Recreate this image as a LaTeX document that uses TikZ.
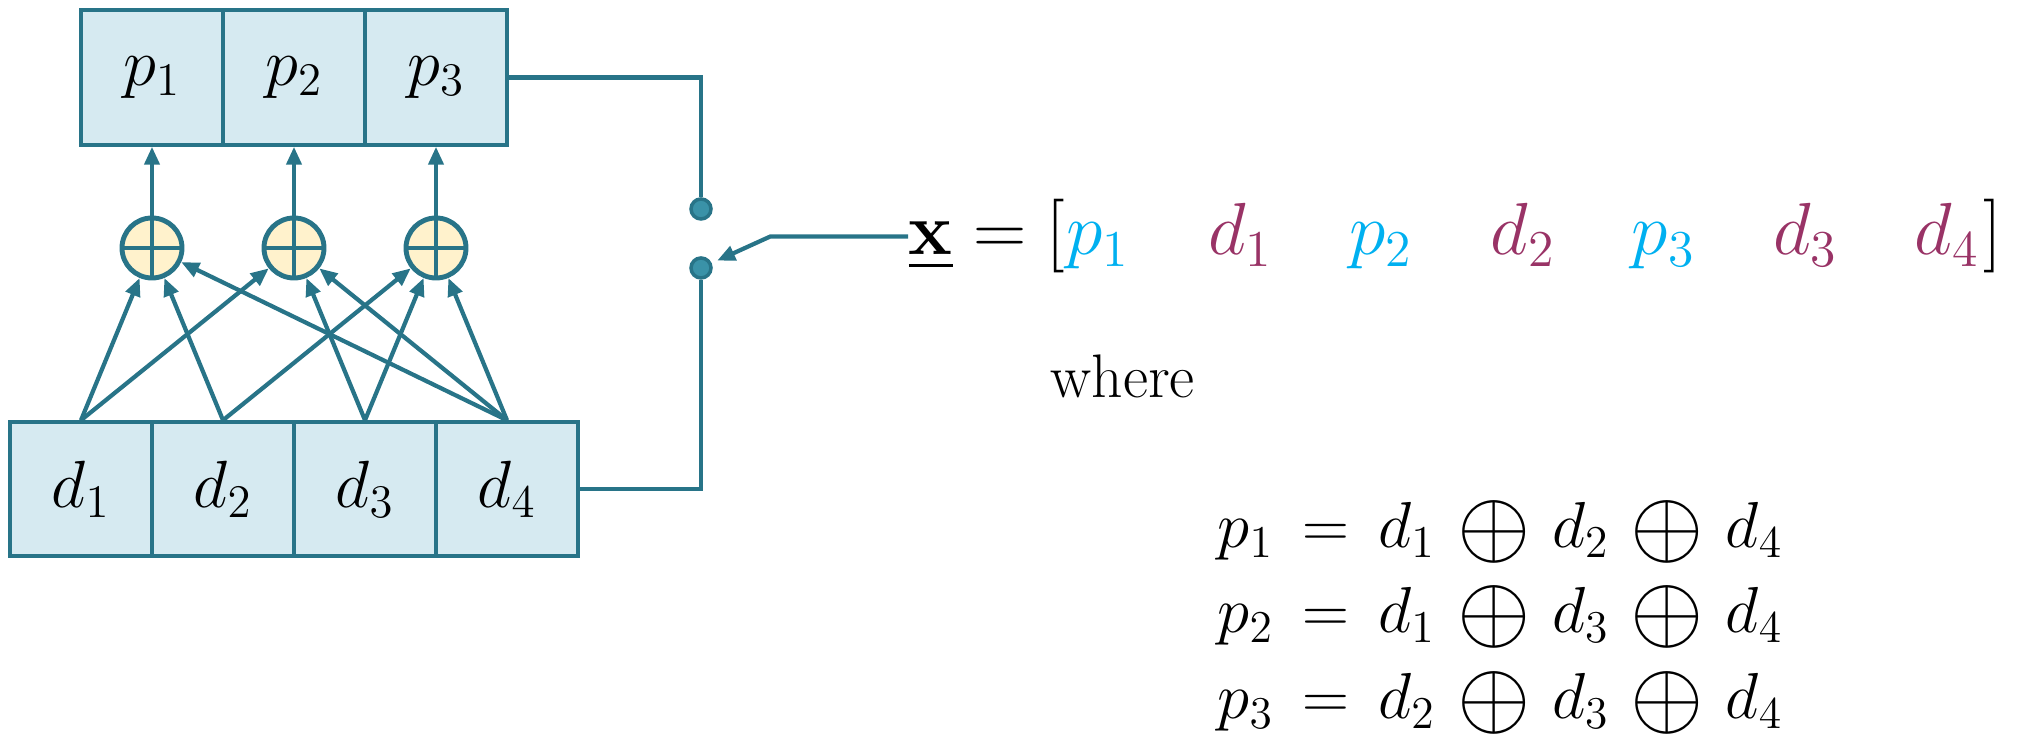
\RequirePackage{fix-cm}
\documentclass[tikz,border=0pt]{standalone}
\usepackage{amsmath}
\usetikzlibrary{arrows.meta}
\definecolor{wire}{RGB}{40,116,136}
\definecolor{cellbg}{RGB}{214,234,241}
\definecolor{xorbg}{RGB}{255,242,204}
\definecolor{knob}{RGB}{58,146,168}
\definecolor{pblue}{RGB}{0,176,240}
\definecolor{dmag}{RGB}{153,51,102}
\newcommand{\xorop}{\mathbin{\vcenter{\hbox{\scalebox{1.45}{$\oplus$}}}}}
\tikzset{
  cell/.style={draw=wire,fill=cellbg,line width=1pt,minimum width=1.42cm,
    minimum height=1.34cm,inner sep=0pt,font=\fontsize{19}{22}\selectfont},
  xor/.style={circle,draw=wire,fill=xorbg,line width=1.4pt,minimum size=0.6cm,
    inner sep=0pt,path picture={
      \draw[wire,line width=1.4pt]
        (path picture bounding box.north) -- (path picture bounding box.south)
        (path picture bounding box.west) -- (path picture bounding box.east);}},
  knobdot/.style={circle,draw=wire,fill=knob,line width=1pt,minimum size=0.2cm,inner sep=0pt},
  link/.style={draw=wire,line width=1.2pt,-{Triangle[length=0.18cm,width=0.15cm]}},
  bus/.style={draw=wire,line width=1.2pt},
  vecent/.style={inner sep=0pt,font=\fontsize{21}{25}\selectfont},
  eqtext/.style={inner sep=0pt,font=\fontsize{18.5}{22}\selectfont},
}
\begin{document}
\begin{tikzpicture}[x=1cm,y=1cm]
  \useasboundingbox (0,0) rectangle (20.26,7.34);
  % data, parity and xor nodes
  \foreach \i/\xx in {1/0.81,2/2.23,3/3.65,4/5.07}
    \node[cell] (d\i) at (\xx,2.45) {$d_\i$};
  \foreach \i/\xx in {1/1.52,2/2.94,3/4.36}{
    \node[cell,minimum height=1.35cm] (p\i) at (\xx,6.565) {$p_\i$};
    \node[xor] (x\i) at (\xx,4.86) {};
    \draw[link] (x\i) -- (p\i.south);
  }
  \foreach \a/\b in {1/1,2/1,4/1,1/2,3/2,4/2,2/3,3/3,4/3}
    \draw[link] (d\a.north) -- (x\b);
  % switch
  \node[knobdot] (sw1) at (7.01,5.25) {};
  \node[knobdot] (sw2) at (7.01,4.66) {};
  \draw[bus] (p3.east) -| (sw1.north);
  \draw[bus] (d4.east) -| (sw2.south);
  % codeword
  \node[vecent,anchor=base east] (xeq) at (10.66,4.79) {$\underline{\mathbf{x}} = [$};
  \foreach \j/\tok/\col in {0/p_1/pblue,1/d_1/dmag,2/p_2/pblue,3/d_2/dmag,4/p_3/pblue,5/d_3/dmag,6/d_4/dmag}
    \node[vecent,text=\col,anchor=base west] (e\j) at ({10.66+\j*1.413},4.79) {$\tok$};
  \node[vecent,anchor=base east] (xend) at (20.03,4.79) {$]$};
  \draw[link,shorten >=0.06cm] (xeq.west) -- ++(-1.38,0) -- (sw2);
  % parity equations
  \node[inner sep=0pt,anchor=base west,font=\fontsize{17.5}{20}\selectfont] (where) at (10.50,3.36) {where};
  \foreach \k/\a/\b/\yy in {1/1/2/1.86,2/1/3/1.01,3/2/3/0.15}
    \node[eqtext,anchor=base west] (eq\k) at (12.17,\yy)
      {$\medmuskip=6mu \thickmuskip=8mu p_\k = d_\a \xorop d_\b \xorop d_4$};
\end{tikzpicture}
\end{document}
